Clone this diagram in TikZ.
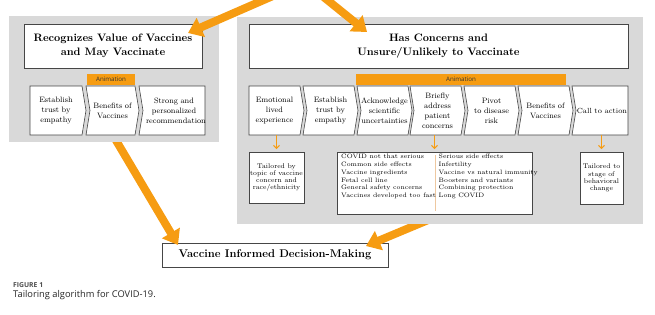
\documentclass[tikz,border=0pt]{standalone}
\usepackage{fontspec}
\newfontfamily\capfont{Open Sans}
\usetikzlibrary{arrows.meta}
\definecolor{panelgray}{RGB}{217,217,217}
\definecolor{vorange}{RGB}{246,156,18}
\definecolor{boxline}{RGB}{70,70,70}
\definecolor{divline}{RGB}{238,200,160}
\tikzset{
  panel/.style={fill=panelgray, draw=none},
  hbox/.style={draw=boxline, fill=white, line width=0.7pt},
  chevline/.style={draw=boxline, fill=white, line width=0.6pt, line join=miter},
  chevtext/.style={text width=56pt, align=center, minimum height=49pt, inner sep=0pt, font=\fontsize{7.8}{10}\selectfont},
  headtext/.style={align=center, font=\bfseries\fontsize{10.8}{14}\selectfont},
  anim/.style={fill=vorange, inner sep=0pt, font=\capfont\fontsize{6.2}{7}\selectfont, text=black!80},
  bigarrow/.style={draw=vorange, line width=8pt, -{Triangle[length=14pt,width=20pt]}},
  smallarrow/.style={draw=vorange, line width=1.1pt, -{Straight Barb[length=3pt,width=6pt]}, shorten >=2.5pt},
  smalltext/.style={align=center, font=\fontsize{6.8}{7.3}\selectfont},
  listtext/.style={align=left, font=\fontsize{6.4}{7.8}\selectfont, inner sep=0pt, anchor=north west},
}
\newcommand\mychev[6]{%
  \draw[chevline] (#2,86) -- (#3,86) -- (#3+#5,110.5) -- (#3,135) -- (#2,135) -- (#2+#4,110.5) -- cycle;
  \node[chevtext] (#1) at ({(#2+#3)/2+#4/2},110.5) {#6};
}
\begin{document}
\begin{tikzpicture}[x=1pt,y=-1pt]
\useasboundingbox (0,0) rectangle (655,314);
% bottom decision box
\node[hbox, minimum width=226pt, minimum height=24pt, headtext, font=\bfseries\fontsize{11.2}{14}\selectfont] (dec) at (275,255) {Vaccine Informed Decision-Making};
% arrows under panels
\coordinate (s3) at (98,110);
\coordinate (tip3) at (178,245);
\coordinate (s4) at (476,200);
\coordinate (tip4) at (366,246);
\draw[bigarrow] (s3) -- (tip3);
\draw[bigarrow] (s4) -- (tip4);
% panels
\fill[panel] (9,16) rectangle (219,142);
\fill[panel] (237,17) rectangle (643,224);
% headers
\node[hbox, minimum width=178pt, minimum height=44pt, headtext] (lh) at (113,46) {Recognizes Value of Vaccines\\and May Vaccinate};
\node[hbox, minimum width=379pt, minimum height=44pt, headtext] (rh) at (438.5,46) {Has Concerns and\\Unsure/Unlikely to Vaccinate};
% animation bars
\node[anim, minimum width=48pt, minimum height=11pt] (la) at (111,79.5) {Animation};
\node[anim, minimum width=210pt, minimum height=11pt] (ra) at (461,79.5) {Animation};
% left chevrons
\mychev{l1}{30}{82}{0}{4}{Establish\\trust by\\empathy}
\mychev{l2}{86}{135}{4}{4}{Benefits of\\Vaccines}
\mychev{l3}{139}{205}{4}{0}{Strong and\\personalized\\recommendation}
% right chevrons
\mychev{r1}{249}{300}{0}{4}{Emotional\\lived\\experience}
\mychev{r2}{303}{354}{4}{4}{Establish\\trust by\\empathy}
\mychev{r3}{357}{408}{4}{4}{Acknowledge\\scientific\\uncertainties}
\mychev{r4}{410}{461}{4}{4}{Briefly\\address\\patient\\concerns}
\mychev{r5}{464}{515}{4}{4}{Pivot\\to disease\\risk}
\mychev{r6}{518}{569}{4}{4}{Benefits of\\Vaccines}
\mychev{r7}{572}{628}{4}{0}{\fontsize{7.4}{10}\selectfont Call to action}
% lower boxes
\node[hbox, minimum width=55pt, minimum height=51pt, smalltext, inner sep=0pt] (ta) at (276.5,177.5) {Tailored by\\topic of vaccine\\concern and\\race/ethnicity};
\node[hbox, minimum width=195pt, minimum height=62pt] (tb) at (434.5,183) {};
\node[hbox, minimum width=43pt, minimum height=52pt, smalltext, inner sep=0pt] (tc) at (601.5,178) {Tailored to\\stage of\\behavioral\\change};
\draw[divline, line width=0.8pt] (435,155) -- (435,211);
\node[listtext] (lista) at (341,154) {COVID not that serious\\Common side effects\\Vaccine ingredients\\Fetal cell line\\General safety concerns\\Vaccines developed too fast};
\node[listtext] (listb) at (438.5,154) {Serious side effects\\Infertility\\Vaccine vs natural immunity\\Boosters and variants\\Combining protection\\Long COVID};
% small arrows
\draw[smallarrow] (ta.north |- r1.south) -- (ta.north);
\draw[smallarrow] (tb.north |- r4.south) -- (tb.north);
\draw[smallarrow] (tc.north |- r7.south) -- (tc.north);
% top arrows
\coordinate (src) at (305,-18);
\coordinate (tip1) at (188,33);
\coordinate (tip2) at (367,32);
\begin{scope}
\clip (0,0) rectangle (655,314);
\draw[bigarrow] (src) -- (tip1);
\draw[bigarrow] (src) -- (tip2);
\end{scope}
% caption
\node[anchor=west, inner sep=0pt, font=\capfont\bfseries\fontsize{6.8}{7}\selectfont, text=black!70] (fig) at (13,285) {FIGURE 1};
\node[anchor=west, inner sep=0pt, font=\capfont\fontsize{9.3}{11}\selectfont, text=black!85] (cap) at (13,295.5) {Tailoring algorithm for COVID-19.};
\end{tikzpicture}
\end{document}
